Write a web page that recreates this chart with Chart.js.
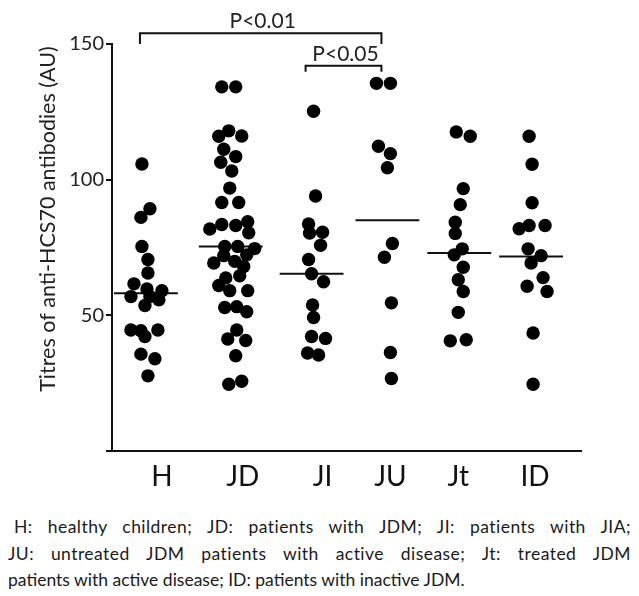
<!DOCTYPE html>
<html>
<head>
<meta charset="utf-8">
<script src="https://cdn.jsdelivr.net/npm/chart.js@4.4.0/dist/chart.umd.min.js"></script>
<style>
    body { margin: 0; background: #fff; }
    #wrap { position: relative; width: 639px; height: 596px; }
    #miGrafico { display: block; }
    #caption { position: absolute; left: 8px; top: 514px; width: 623px; font-family: Lato, sans-serif; font-size: 17.5px; line-height: 26.5px; color: #1a1a1a; }
    #caption .j { text-align: justify; text-align-last: justify; letter-spacing: 0.45px; }
</style>
</head>
<body>
<div id="wrap">
    <canvas id="miGrafico" width="639" height="500"></canvas>
    <div id="caption">
        <div class="j" style="padding-left:6px">H: healthy children; JD: patients with JDM; JI: patients with JIA;</div>
        <div class="j">JU: untreated JDM patients with active disease; Jt: treated JDM</div>
        <div>patients with active disease; ID: patients with inactive JDM.</div>
    </div>
</div>
<script>
// groups on the x axis
const groupNames = ['H', 'JD', 'JI', 'JU', 'Jt', 'ID'];
// x axis is in px units from the y axis: centre of each dot cluster and of each label
const groupCenters = [34, 119, 200, 276, 348, 420];
const labelCenters = [50, 131, 211, 279, 347, 424];

// titres (AU), with the horizontal scatter of each dot
const valsH = [105.8, 89.3, 86.1, 75.4, 70.6, 65.6, 61.6, 59.7, 59.1, 56.9, 56.9, 55.7, 53.6, 44.6, 44.3, 42.2, 44.6, 35.7, 34.0, 27.7];
const dxH = [-4, 4, -5, -4, 2, 2, -12, 1, 16, -15, 4, 13, -1, -15, -5, -1, 12, -5, 9, 2];
const valsJD = [134.2, 134.2, 118.0, 116.0, 116.1, 111.2, 108.5, 106.4, 103.2, 96.9, 91.6, 91.6, 83.5, 83.1, 84.5, 81.8, 80.4,
    75.4, 75.4, 74.6, 72.0, 72.3, 69.3, 69.9, 68.0, 64.6, 63.8, 61.0, 59.1, 59.1, 52.9, 53.2, 51.3, 44.6, 41.3, 40.7, 35.1, 24.6, 25.7];
const dxJD = [-9, 5, -2, -12, 11, -7, 5, -10, 1, -1, -9, 8, -9, 5, 17, -21, 18,
    -6, 7, 24, -7, 16, -17, 4, 13, 9, -5, -12, -1, 17, -6, 6, 16, 6, -3, 15, 5, -2, 11];
const valsJI = [125.2, 94.0, 83.7, 80.3, 80.6, 75.8, 70.6, 65.3, 62.4, 53.8, 49.2, 42.2, 41.5, 36.1, 35.4];
const dxJI = [2, 4, -3, -2, 11, 9, -3, 0, 12, 1, 2, 0, 14, -4, 7];
const valsJU = [135.5, 135.5, 112.3, 109.6, 104.4, 76.5, 71.4, 54.6, 36.3, 26.7];
const dxJU = [-11, 3, -9, 3, 0, 5, -3, 4, 3, 4];
const valsJt = [117.6, 116.0, 96.7, 90.8, 84.3, 80.2, 74.5, 72.3, 67.7, 63.1, 58.8, 51.1, 40.6, 41.0];
const dxJt = [-3, 11, 4, 1, -4, -4, 3, -5, 4, -1, 4, -1, -9, 7];
const valsID = [116.0, 105.7, 91.5, 81.9, 83.1, 83.1, 74.5, 72.0, 69.3, 63.9, 60.7, 58.8, 43.5, 24.6];
const dxID = [-2, 1, 1, -12, -2, 14, -3, 10, 0, 12, -4, 16, 2, 2];

// horizontal bar in each group
const medians = [58.1, 75.4, 65.3, 85.0, 73.0, 71.7];

// significance brackets
const brackets = [
    { from: 0, to: 3, level: 154, drop: 4, label: 'P<0.01' },
    { from: 2, to: 3, level: 142, drop: 2.2, label: 'P<0.05' }
];
const yTitle = 'Titres of anti-HCS70 antibodies (AU)';

const allVals = [valsH, valsJD, valsJI, valsJU, valsJt, valsID];
const allDx = [dxH, dxJD, dxJI, dxJU, dxJt, dxID];

const datasets = [];
for (let i = 0; i < groupNames.length; i++) {
    const pts = [];
    for (let k = 0; k < allVals[i].length; k++) {
        pts.push({ x: groupCenters[i] + allDx[i][k], y: allVals[i][k] });
    }
    datasets.push({
        type: 'scatter',
        label: groupNames[i],
        data: pts,
        pointRadius: 6.7,
        pointBackgroundColor: '#000',
        pointBorderWidth: 0
    });
    datasets.push({
        type: 'line',
        label: groupNames[i] + ' median',
        data: [{ x: groupCenters[i] - 32, y: medians[i] }, { x: groupCenters[i] + 32, y: medians[i] }],
        borderColor: '#111',
        borderWidth: 2,
        pointRadius: 0
    });
}

// brackets, P values and the y title
const extras = {
    id: 'extras',
    afterDraw(chart) {
        const { ctx, scales: { x, y } } = chart;
        ctx.save();
        ctx.strokeStyle = '#111';
        ctx.fillStyle = '#222';
        ctx.lineWidth = 2;
        for (let b of brackets) {
            const x0 = x.getPixelForValue(groupCenters[b.from] - 6);
            const x1 = x.getPixelForValue(groupCenters[b.to] - 6);
            const yt = y.getPixelForValue(b.level);
            const yb = y.getPixelForValue(b.level - b.drop);
            ctx.beginPath();
            ctx.moveTo(x0, yb);
            ctx.lineTo(x0, yt);
            ctx.lineTo(x1, yt);
            ctx.lineTo(x1, yb);
            ctx.stroke();
            ctx.font = '21px Lato';
            ctx.textAlign = 'center';
            ctx.textBaseline = 'alphabetic';
            ctx.fillText(b.label, (x0 + x1) / 2 + 2, yt - 5);
        }
        ctx.translate(48, 219);
        ctx.rotate(-Math.PI / 2);
        ctx.font = '21.5px Lato';
        ctx.textAlign = 'center';
        ctx.textBaseline = 'middle';
        ctx.fillText(yTitle, 0, 0);
        ctx.restore();
    }
};

const grafico = new Chart(document.getElementById('miGrafico'), {
    type: 'scatter',
    data: { datasets: datasets },
    plugins: [extras],
    options: {
        responsive: false,
        animation: false,
        layout: { padding: { top: 44, right: 58, left: 0, bottom: 0 } },
        plugins: { legend: { display: false }, tooltip: { enabled: false } },
        scales: {
            x: {
                type: 'linear',
                min: 0,
                max: 470,
                afterFit(s) { s.height = 49; },
                afterBuildTicks(s) { s.ticks = labelCenters.map(v => ({ value: v })); },
                ticks: {
                    callback: (v, i) => groupNames[i],
                    font: { family: 'Lato', size: 28 },
                    color: '#111',
                    padding: 9,
                    maxRotation: 0,
                    autoSkip: false
                },
                grid: { display: false, drawTicks: false },
                border: { color: '#111', width: 2 }
            },
            y: {
                min: 0,
                max: 150,
                afterFit(s) { s.width = 112; },
                ticks: {
                    stepSize: 50,
                    callback: v => v === 0 ? '' : v,
                    font: { family: 'Lato', size: 20 },
                    color: '#222',
                    padding: 2
                },
                grid: { drawOnChartArea: false, tickLength: 6, color: '#111', lineWidth: 2 },
                border: { color: '#111', width: 2 }
            }
        }
    }
});
</script>
</body>
</html>
